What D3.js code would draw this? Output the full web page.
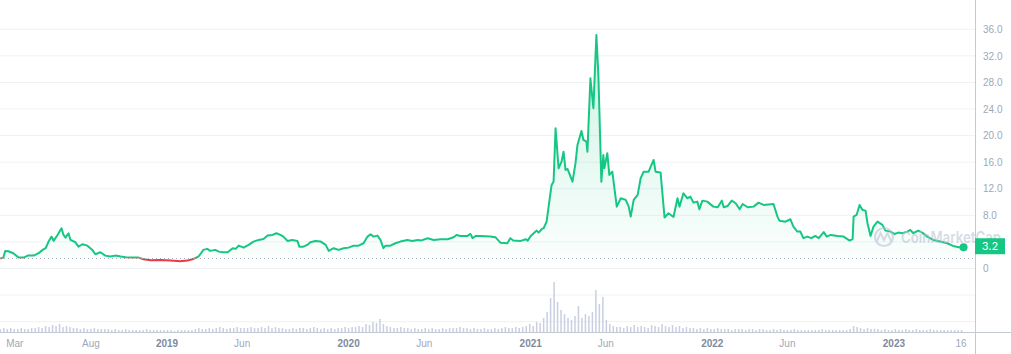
<!DOCTYPE html>
<html>
<head>
<meta charset="utf-8">
<script src="https://cdn.jsdelivr.net/npm/d3@7"></script>
<style>
  body { margin: 0; background: #fff; }
  svg { display: block; font-family: Inter, "Noto Sans", sans-serif; }
  .tick text { fill: #a1a7bb; font-size: 10px; }
  .tick text.year { fill: #808a9d; font-weight: 700; }
</style>
</head>
<body>
<div id="chart"></div>
<script>
// price (USD), [date, value]
const price2018 = [
  ["2018-02-01", 1.50], ["2018-02-07", 1.64], ["2018-02-11", 2.65], ["2018-02-17", 2.60], ["2018-02-27", 2.30],
  ["2018-03-10", 1.64], ["2018-03-20", 1.64], ["2018-03-28", 1.94], ["2018-04-09", 1.94], ["2018-04-19", 2.30],
  ["2018-04-27", 2.80], ["2018-05-03", 3.05], ["2018-05-09", 4.05], ["2018-05-15", 4.80], ["2018-05-19", 4.15],
  ["2018-05-27", 5.05], ["2018-06-04", 6.06], ["2018-06-08", 5.05], ["2018-06-12", 4.65], ["2018-06-18", 5.31],
  ["2018-06-22", 4.30], ["2018-07-02", 3.95], ["2018-07-08", 3.29], ["2018-07-16", 3.65], ["2018-07-26", 3.44],
  ["2018-08-05", 2.80], ["2018-08-11", 2.15], ["2018-08-21", 2.45], ["2018-08-31", 1.94], ["2018-09-10", 1.79],
  ["2018-09-20", 1.94], ["2018-10-01", 1.79], ["2018-10-11", 1.70], ["2018-10-25", 1.64], ["2018-11-06", 1.64],
  ["2018-11-16", 1.40], ["2018-11-30", 1.25], ["2018-12-20", 1.29]
];
const price2019 = [
  ["2019-01-09", 1.19], ["2019-01-29", 1.10], ["2019-02-12", 1.19], ["2019-02-24", 1.44], ["2019-03-06", 1.79],
  ["2019-03-10", 2.15], ["2019-03-16", 2.80], ["2019-03-24", 2.95], ["2019-03-30", 2.65], ["2019-04-09", 2.80],
  ["2019-04-16", 2.54], ["2019-04-24", 2.45], ["2019-05-04", 2.45], ["2019-05-14", 3.05], ["2019-05-20", 2.95],
  ["2019-05-26", 3.44], ["2019-06-05", 3.14], ["2019-06-15", 3.55], ["2019-06-25", 4.05], ["2019-07-05", 4.30],
  ["2019-07-15", 4.45], ["2019-07-23", 4.95], ["2019-08-02", 5.05], ["2019-08-10", 5.31], ["2019-08-18", 5.05],
  ["2019-08-24", 4.80], ["2019-09-01", 4.15], ["2019-09-11", 4.30], ["2019-09-21", 4.15], ["2019-09-25", 3.29],
  ["2019-10-03", 3.29], ["2019-10-11", 3.55], ["2019-10-17", 3.95], ["2019-10-27", 4.15], ["2019-11-07", 4.05],
  ["2019-11-17", 3.55], ["2019-11-23", 2.65], ["2019-12-03", 3.05], ["2019-12-13", 2.80], ["2019-12-23", 3.05]
];
const price2020 = [
  ["2020-01-02", 3.14], ["2020-01-12", 3.44], ["2020-01-22", 3.44], ["2020-02-01", 3.80], ["2020-02-09", 4.80],
  ["2020-02-15", 5.16], ["2020-02-21", 4.80], ["2020-02-29", 4.95], ["2020-03-06", 4.30], ["2020-03-12", 3.05],
  ["2020-03-16", 3.44], ["2020-03-26", 3.44], ["2020-04-05", 3.80], ["2020-04-15", 4.05], ["2020-04-29", 4.30],
  ["2020-05-09", 4.15], ["2020-05-20", 4.30], ["2020-05-26", 4.20], ["2020-06-09", 4.56], ["2020-06-21", 4.30],
  ["2020-07-05", 4.41], ["2020-07-19", 4.41], ["2020-07-31", 4.71], ["2020-08-06", 5.05], ["2020-08-14", 4.90],
  ["2020-08-28", 4.90], ["2020-09-03", 5.20], ["2020-09-07", 4.56], ["2020-09-13", 4.90], ["2020-09-23", 4.90],
  ["2020-10-13", 4.80], ["2020-10-23", 4.71], ["2020-11-02", 3.89], ["2020-11-16", 3.80], ["2020-11-22", 4.56],
  ["2020-11-28", 4.20], ["2020-12-13", 4.15], ["2020-12-23", 4.41], ["2020-12-27", 4.20]
];
const price2021 = [
  ["2021-01-02", 4.90], ["2021-01-08", 5.31], ["2021-01-14", 5.70], ["2021-01-18", 5.40], ["2021-01-24", 5.91],
  ["2021-01-28", 6.06], ["2021-02-03", 7.05], ["2021-02-07", 9.31], ["2021-02-13", 12.57], ["2021-02-17", 13.07],
  ["2021-02-21", 21.10], ["2021-02-27", 15.08], ["2021-03-05", 16.08], ["2021-03-09", 17.58], ["2021-03-13", 14.83],
  ["2021-03-17", 14.98], ["2021-03-27", 13.07], ["2021-04-02", 15.83], ["2021-04-06", 18.59], ["2021-04-14", 20.69],
  ["2021-04-18", 19.34], ["2021-04-24", 19.08], ["2021-04-26", 17.58], ["2021-05-02", 28.62], ["2021-05-08", 24.11],
  ["2021-05-14", 35.13], ["2021-05-18", 29.11], ["2021-05-24", 13.07], ["2021-05-28", 17.08], ["2021-05-30", 15.08],
  ["2021-06-05", 17.34], ["2021-06-09", 14.08], ["2021-06-15", 14.57], ["2021-06-24", 9.31], ["2021-07-02", 10.57],
  ["2021-07-12", 10.32], ["2021-07-18", 9.31], ["2021-07-22", 7.80], ["2021-07-28", 10.32], ["2021-08-05", 11.07],
  ["2021-08-11", 13.58], ["2021-08-17", 14.57], ["2021-08-27", 14.57], ["2021-09-06", 16.33], ["2021-09-10", 14.57],
  ["2021-09-20", 14.45], ["2021-09-28", 7.68], ["2021-10-06", 8.32], ["2021-10-16", 7.76], ["2021-10-24", 10.57],
  ["2021-10-28", 9.31], ["2021-11-05", 11.32], ["2021-11-13", 10.57], ["2021-11-19", 10.81], ["2021-11-25", 9.91],
  ["2021-12-03", 10.06], ["2021-12-07", 8.92], ["2021-12-13", 10.21], ["2021-12-23", 10.06]
];
const price2022 = [
  ["2022-01-04", 9.31], ["2022-01-13", 9.22], ["2022-01-21", 10.21], ["2022-01-25", 9.22], ["2022-02-02", 9.41],
  ["2022-02-10", 10.21], ["2022-02-18", 9.82], ["2022-02-26", 8.92], ["2022-03-04", 9.71], ["2022-03-14", 9.22],
  ["2022-03-26", 9.31], ["2022-04-05", 9.91], ["2022-04-15", 9.56], ["2022-05-05", 9.71], ["2022-05-13", 7.80],
  ["2022-05-17", 7.20], ["2022-05-29", 7.05], ["2022-06-08", 7.41], ["2022-06-14", 6.30], ["2022-06-22", 5.55],
  ["2022-06-28", 5.55], ["2022-07-04", 4.56], ["2022-07-12", 4.80], ["2022-07-20", 4.56], ["2022-07-28", 4.90],
  ["2022-08-04", 4.56], ["2022-08-14", 5.47], ["2022-08-20", 4.80], ["2022-08-28", 5.05], ["2022-09-11", 4.90],
  ["2022-09-23", 4.80], ["2022-10-05", 4.20], ["2022-10-11", 4.41], ["2022-10-13", 7.80], ["2022-10-19", 8.06],
  ["2022-10-25", 9.56], ["2022-10-31", 8.81], ["2022-11-06", 8.71], ["2022-11-10", 6.81], ["2022-11-16", 4.90],
  ["2022-11-22", 6.30], ["2022-11-30", 7.05], ["2022-12-10", 6.56], ["2022-12-16", 5.70], ["2022-12-26", 5.55]
];
const price2023 = [
  ["2023-01-03", 5.20], ["2023-01-11", 5.40], ["2023-01-19", 5.31], ["2023-01-29", 5.55], ["2023-02-04", 5.80],
  ["2023-02-10", 5.31], ["2023-02-20", 5.70], ["2023-02-28", 5.40], ["2023-03-10", 4.80], ["2023-03-22", 4.30],
  ["2023-04-05", 4.05], ["2023-04-19", 3.80], ["2023-05-01", 3.40], ["2023-05-15", 3.15], ["2023-05-22", 3.20]
];

// weekly volume (arbitrary units), first week starting 2018-02-01
const volumeStart = "2018-02-01";
const volume = [
  3, 4, 3, 4, 3, 3, 4, 3, 3, 4, 4, 5, 4,
  6, 5, 7, 6, 8, 5, 6, 5, 4,
  4, 3, 4, 3, 3, 4, 3, 3, 3,
  3, 2, 3, 2, 2, 3, 2, 2, 2, 2, 2, 3, 2, 2, 2, 2, 2,
  2, 2, 1, 2, 2, 2, 2, 2, 3,
  4, 3, 3, 4, 3, 4, 5, 4, 3, 4, 4, 5, 4,
  4, 4, 5, 4, 4, 5, 4, 6, 4, 5, 4, 4, 3,
  3, 4, 3, 4, 4, 3, 4, 5, 4, 3, 4, 3, 4, 3, 4, 4, 5,
  4, 5, 5, 6, 5,
  8, 7, 10, 9, 13, 8, 6, 5,
  4, 4, 5, 4, 4, 3, 4, 3, 3, 4, 3, 4, 3, 3, 4, 3, 4, 4,
  4, 5, 4, 4, 3, 4, 3, 3, 4, 3, 3, 4, 3, 4, 5, 4, 4, 5, 4, 5, 6,
  8, 6, 10, 9, 14,
  20, 34, 50, 30, 22, 18, 14,
  12, 16, 26, 14, 18, 16, 20, 42, 28,
  35, 12, 8, 6, 5,
  5, 4, 6, 5, 7, 5, 6, 5, 4,
  7, 6, 5, 8, 6, 5, 7, 5, 6, 4, 5, 4, 4, 3, 4, 3, 4,
  3, 3, 4, 3, 3, 3, 2, 3, 3, 3, 2, 3, 3, 2, 3, 3, 2, 2, 3, 2, 3, 2, 2, 2, 3, 2, 2, 2, 2, 2,
  2, 2, 3, 2, 2, 2, 2, 2, 2, 2, 3, 6,
  5, 4, 3, 4, 3, 3, 3,
  2, 3, 2, 2, 3, 2, 2, 3, 2, 2, 3, 2, 2, 2, 3, 2, 2, 2, 2, 2, 2, 2, 2, 2
];

// axes
const xTickDates = ["2018-03-01", "2018-08-01", "2019-01-01", "2019-06-01", "2020-01-01", "2020-06-01",
  "2021-01-01", "2021-06-01", "2022-01-01", "2022-06-01", "2023-01-01", "2023-05-16"];
const xTickLabels = ["Mar", "Aug", "2019", "Jun", "2020", "Jun", "2021", "Jun", "2022", "Jun", "2023", "16"];
// 4.0 sits under the price tag in the original, so it is not labelled
const yTicks = [0, 8, 12, 16, 20, 24, 28, 32, 36];
const gridTicks = [-8, -4, 0, 4, 8, 12, 16, 20, 24, 28, 32, 36];

const width = 1011;
const height = 354;
const plotRight = 975;
const axisY = 332;
const green = "#16c784";
const red = "#ea3943";

const parse = d3.timeParse("%Y-%m-%d");
const price = [...price2018, ...price2019, ...price2020, ...price2021, ...price2022, ...price2023]
  .map(([d, v]) => ({ date: parse(d), value: v }));
const base = price[0].value;
const last = price[price.length - 1];
const volData = volume.map((v, i) => ({ date: d3.timeDay.offset(parse(volumeStart), i * 7), value: v }));

const x = d3.scaleTime()
  .domain([new Date(2018, 0, 31, 8), new Date(2023, 5, 14)])
  .range([0, plotRight]);

const y = d3.scaleLinear()
  .domain([0, 40.4])
  .range([268.5, 0]);

const yVol = d3.scaleLinear()
  .domain([0, 52])
  .range([axisY, 280]);

const svg = d3.select("#chart")
  .append("svg")
  .attr("width", width)
  .attr("height", height);

const defs = svg.append("defs");
const grad = defs.append("linearGradient")
  .attr("id", "fillGrad")
  .attr("gradientUnits", "userSpaceOnUse")
  .attr("x1", 0).attr("x2", 0)
  .attr("y1", y(36)).attr("y2", y(base));
grad.append("stop").attr("offset", 0).attr("stop-color", green).attr("stop-opacity", 0.22);
grad.append("stop").attr("offset", 1).attr("stop-color", green).attr("stop-opacity", 0.02);

defs.append("clipPath").attr("id", "above")
  .append("rect").attr("x", 0).attr("y", 0).attr("width", plotRight).attr("height", y(base));
defs.append("clipPath").attr("id", "below")
  .append("rect").attr("x", 0).attr("y", y(base)).attr("width", plotRight).attr("height", height - y(base));

// grid
svg.append("g")
  .selectAll("line")
  .data(gridTicks)
  .join("line")
  .attr("x1", 0)
  .attr("x2", plotRight)
  .attr("y1", d => y(d))
  .attr("y2", d => y(d))
  .attr("stroke", "#eff2f5");

// volume
svg.append("g")
  .selectAll("rect")
  .data(volData)
  .join("rect")
  .attr("x", d => x(d.date) - 0.75)
  .attr("width", 1.5)
  .attr("y", d => yVol(d.value))
  .attr("height", d => axisY - yVol(d.value))
  .attr("fill", "#c9cfe0");

// baseline (open price)
svg.append("line")
  .attr("x1", 0)
  .attr("x2", plotRight)
  .attr("y1", y(base))
  .attr("y2", y(base))
  .attr("stroke", "#a6b0c3")
  .attr("stroke-dasharray", "1,3");

const area = d3.area()
  .x(d => x(d.date))
  .y0(y(base))
  .y1(d => y(d.value));

const line = d3.line()
  .x(d => x(d.date))
  .y(d => y(d.value));

svg.append("path")
  .datum(price)
  .attr("clip-path", "url(#above)")
  .attr("fill", "url(#fillGrad)")
  .attr("d", area);

svg.append("path")
  .datum(price)
  .attr("clip-path", "url(#above)")
  .attr("fill", "none")
  .attr("stroke", green)
  .attr("stroke-width", 2)
  .attr("stroke-linejoin", "round")
  .attr("d", line);

svg.append("path")
  .datum(price)
  .attr("clip-path", "url(#below)")
  .attr("fill", "none")
  .attr("stroke", red)
  .attr("stroke-width", 2)
  .attr("stroke-linejoin", "round")
  .attr("d", line);

svg.append("circle")
  .attr("cx", x(last.date))
  .attr("cy", y(last.value))
  .attr("r", 4)
  .attr("fill", green);

// axes
const yAxis = svg.append("g")
  .attr("transform", `translate(${plotRight}, 0)`)
  .call(d3.axisRight(y)
    .tickValues(yTicks)
    .tickSize(0)
    .tickPadding(8)
    .tickFormat(d => d === 0 ? "0" : d.toFixed(1)));
yAxis.select(".domain").remove();

const xAxis = svg.append("g")
  .attr("transform", `translate(0, ${axisY})`)
  .call(d3.axisBottom(x)
    .tickValues(xTickDates.map(parse))
    .tickSize(0)
    .tickPadding(8)
    .tickFormat((d, i) => xTickLabels[i]));
xAxis.select(".domain").remove();
xAxis.selectAll(".tick text")
  .classed("year", (d, i) => /^\d{4}$/.test(xTickLabels[i]));

svg.append("line")
  .attr("x1", 0).attr("x2", width)
  .attr("y1", axisY + 0.5).attr("y2", axisY + 0.5)
  .attr("stroke", "#c4c9d4");

svg.append("line")
  .attr("x1", plotRight + 0.5).attr("x2", plotRight + 0.5)
  .attr("y1", 0).attr("y2", height)
  .attr("stroke", "#c4c9d4");

// watermark
const wm = svg.append("g")
  .attr("opacity", 0.55)
  .attr("fill", "none")
  .attr("stroke", "#b9bfd1");
wm.append("circle")
  .attr("cx", 884).attr("cy", 237).attr("r", 9)
  .attr("stroke-width", 2.2);
wm.append("path")
  .attr("d", "M877,241 L880.5,233 L884,240 L887.5,233 L891,241")
  .attr("stroke-width", 2);
wm.append("text")
  .attr("x", 901)
  .attr("y", 243)
  .attr("stroke", "none")
  .attr("fill", "#b9bfd1")
  .attr("font-size", 16)
  .attr("font-weight", 600)
  .attr("textLength", 100)
  .attr("lengthAdjust", "spacingAndGlyphs")
  .text("CoinMarketCap");

// current price tag
const tag = svg.append("g");
tag.append("rect")
  .attr("x", plotRight)
  .attr("y", y(last.value) - 9)
  .attr("width", 30)
  .attr("height", 16)
  .attr("fill", green);
tag.append("text")
  .attr("x", plotRight + 15)
  .attr("y", y(last.value) - 1)
  .attr("dy", "0.35em")
  .attr("text-anchor", "middle")
  .attr("fill", "#fff")
  .attr("font-size", 11)
  .text(last.value.toFixed(1));
</script>
</body>
</html>
